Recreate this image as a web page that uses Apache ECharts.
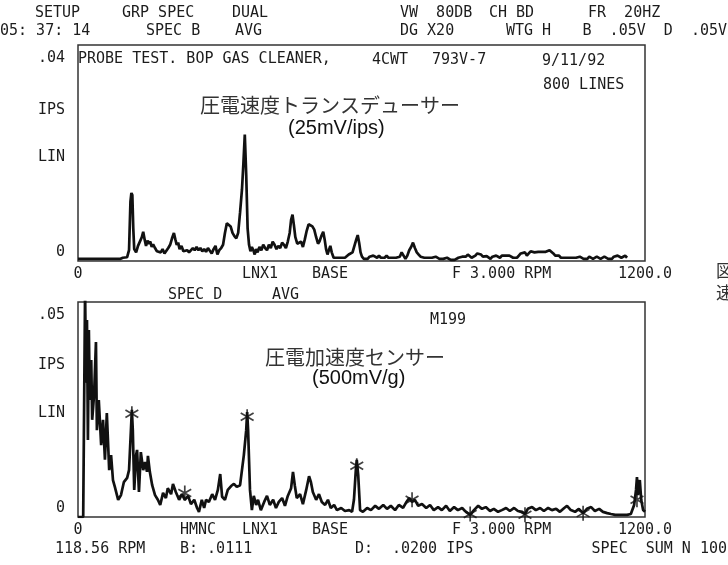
<!DOCTYPE html>
<html><head><meta charset="utf-8">
<script src="https://cdn.jsdelivr.net/npm/echarts@6/dist/echarts.min.js"></script>
<style>html,body{margin:0;padding:0;background:#fff}#c{width:728px;height:565px}</style>
</head><body><div id="c"></div>
<script>
// ---- data (CPM, IPS) ----
const xTickLabels = ['0', '1200.0'];
const topYTickLabels = ['0', '.04'];
const botYTickLabels = ['0', '.05'];
const topCpm = [0,90,95,104,108,111,113,115,117,119,123,127,131,135,138,141,144,147,150,153,156,159,163,167,171,175,179,183,187,191,195,199,203,206,209,212,215,219,223,227,231,235,239,243,247,251,255,259,263,267,271,275,279,283,287,291,295,299,303,307,311,315,319,323,327,331,335,339,343,347,350,353,356,359,362,365,368,371,374,377,380,384,388,392,396,400,404,408,412,416,420,424,428,432,436,440,444,448,451,454,457,460,464,468,472,476,480,484,488,492,496,500,504,508,511,515,519,522,525,528,531,534,537,541,545,549,553,557,561,565,569,573,577,581,585,589,592,595,598,601,605,609,613,617,621,625,629,633,637,641,645,649,653,657,661,665,669,673,677,681,685,689,693,697,701,705,709,713,717,721,725,729,733,737,741,745,749,753,757,761,765,769,773,777,781,785,789,793,797,801,805,809,813,817,821,825,829,833,837,841,845,849,853,857,861,865,869,873,877,881,885,889,893,897,901,905,909,913,917,921,925,929,933,937,941,946,950,954,958,962,966,970,974,978,982,986,990,994,998,1002,1006,1010,1014,1018,1022,1026,1030,1034,1038,1042,1046,1050,1054,1058,1062,1066,1070,1074,1078,1082,1086,1090,1094,1098,1102,1106,1110,1114,1118,1122,1126,1130,1134,1138,1142,1146,1150,1154,1158,1162,1166,1170,1174,1178,1182,1186,1190,1194,1198,1200];
const topIps = [0.0004,0.0004,0.0006,0.0007,0.0020,0.0110,0.0126,0.0122,0.0060,0.0022,0.0016,0.0028,0.0030,0.0044,0.0054,0.0040,0.0028,0.0038,0.0032,0.0036,0.0026,0.0031,0.0024,0.0018,0.0020,0.0016,0.0022,0.0014,0.0017,0.0024,0.0030,0.0042,0.0052,0.0040,0.0030,0.0034,0.0022,0.0028,0.0018,0.0015,0.0020,0.0016,0.0019,0.0024,0.0020,0.0026,0.0020,0.0024,0.0018,0.0022,0.0017,0.0024,0.0019,0.0014,0.0022,0.0028,0.0012,0.0020,0.0024,0.0030,0.0052,0.0070,0.0072,0.0064,0.0052,0.0046,0.0042,0.0052,0.0090,0.0132,0.0180,0.0234,0.0160,0.0060,0.0030,0.0018,0.0026,0.0020,0.0012,0.0022,0.0016,0.0026,0.0020,0.0030,0.0024,0.0020,0.0030,0.0024,0.0036,0.0030,0.0022,0.0028,0.0024,0.0034,0.0030,0.0024,0.0036,0.0052,0.0076,0.0086,0.0066,0.0044,0.0032,0.0030,0.0036,0.0026,0.0040,0.0056,0.0068,0.0070,0.0064,0.0058,0.0044,0.0032,0.0036,0.0046,0.0054,0.0040,0.0022,0.0012,0.0020,0.0028,0.0016,0.0006,0.0004,0.0006,0.0004,0.0006,0.0008,0.0006,0.0008,0.0012,0.0010,0.0016,0.0028,0.0040,0.0048,0.0034,0.0016,0.0008,0.0004,0.0002,0.0004,0.0008,0.0006,0.0010,0.0008,0.0006,0.0010,0.0006,0.0004,0.0006,0.0010,0.0006,0.0004,0.0006,0.0008,0.0006,0.0004,0.0008,0.0016,0.0010,0.0004,0.0010,0.0020,0.0026,0.0034,0.0024,0.0016,0.0012,0.0008,0.0010,0.0006,0.0008,0.0006,0.0008,0.0006,0.0004,0.0008,0.0006,0.0004,0.0006,0.0004,0.0002,0.0006,0.0004,0.0002,0.0004,0.0002,0.0004,0.0006,0.0004,0.0008,0.0010,0.0008,0.0012,0.0010,0.0006,0.0008,0.0010,0.0014,0.0017,0.0012,0.0008,0.0006,0.0009,0.0006,0.0004,0.0008,0.0006,0.0010,0.0008,0.0006,0.0010,0.0012,0.0010,0.0008,0.0010,0.0008,0.0006,0.0008,0.0006,0.0010,0.0014,0.0012,0.0016,0.0010,0.0014,0.0018,0.0020,0.0016,0.0019,0.0017,0.0018,0.0017,0.0019,0.0017,0.0018,0.0020,0.0018,0.0014,0.0010,0.0008,0.0010,0.0006,0.0008,0.0006,0.0004,0.0006,0.0008,0.0006,0.0004,0.0006,0.0004,0.0008,0.0006,0.0004,0.0006,0.0004,0.0008,0.0006,0.0004,0.0006,0.0008,0.0006,0.0004,0.0006,0.0008,0.0006,0.0004,0.0006,0.0004,0.0008,0.0006,0.0010,0.0008,0.0006,0.0004,0.0010,0.0006];
const botCpm = [0,11,15,17,19,21,23,25,28,30,34,38,40,44,49,53,57,61,66,70,74,78,85,91,97,104,108,112,114,116,119,123,125,129,133,138,142,146,148,152,157,163,169,174,180,186,190,197,201,207,214,220,226,233,239,246,252,256,262,267,271,277,284,290,296,301,305,311,317,324,330,336,343,347,351,356,358,360,364,368,372,377,381,387,394,400,406,413,419,425,432,438,444,451,455,459,463,470,476,483,489,493,497,504,510,516,523,529,535,542,548,557,565,574,580,584,588,590,593,597,603,612,620,629,637,646,654,662,671,679,688,694,701,707,713,720,728,737,745,753,762,770,779,787,796,804,813,821,830,838,847,855,863,872,880,889,897,906,914,923,931,940,946,952,961,969,978,986,995,1003,1012,1020,1029,1035,1043,1052,1060,1069,1077,1086,1094,1103,1111,1120,1128,1137,1145,1153,1162,1170,1177,1181,1183,1185,1189,1192,1196,1200];
const botIps = [0,0,0.0530,0.0312,0.0458,0.0179,0.0435,0.0272,0.0365,0.0226,0.0284,0.0407,0.0202,0.0272,0.0167,0.0226,0.0133,0.0242,0.0109,0.0144,0.0086,0.0070,0.0040,0.0051,0.0081,0.0091,0.0109,0.0202,0.0249,0.0202,0.0063,0.0144,0.0156,0.0058,0.0151,0.0109,0.0128,0.0105,0.0142,0.0105,0.0074,0.0051,0.0040,0.0028,0.0056,0.0044,0.0067,0.0053,0.0077,0.0058,0.0040,0.0053,0.0040,0.0049,0.0030,0.0040,0.0021,0.0012,0.0040,0.0021,0.0040,0.0035,0.0053,0.0040,0.0063,0.0100,0.0047,0.0040,0.0063,0.0072,0.0077,0.0070,0.0074,0.0109,0.0144,0.0202,0.0244,0.0202,0.0063,0.0016,0.0049,0.0028,0.0040,0.0016,0.0035,0.0049,0.0028,0.0040,0.0021,0.0035,0.0044,0.0026,0.0049,0.0067,0.0105,0.0072,0.0044,0.0053,0.0030,0.0063,0.0095,0.0081,0.0058,0.0040,0.0053,0.0035,0.0028,0.0040,0.0021,0.0028,0.0016,0.0021,0.0014,0.0016,0.0012,0.0040,0.0109,0.0133,0.0098,0.0016,0.0012,0.0021,0.0016,0.0026,0.0019,0.0028,0.0019,0.0026,0.0016,0.0028,0.0021,0.0033,0.0044,0.0035,0.0040,0.0026,0.0030,0.0021,0.0028,0.0016,0.0023,0.0016,0.0026,0.0014,0.0023,0.0016,0.0021,0.0012,0.0005,0.0016,0.0026,0.0019,0.0023,0.0014,0.0019,0.0012,0.0016,0.0021,0.0014,0.0021,0.0014,0.0012,0.0007,0.0019,0.0023,0.0016,0.0021,0.0014,0.0021,0.0016,0.0019,0.0012,0.0021,0.0026,0.0016,0.0012,0.0019,0.0009,0.0019,0.0023,0.0014,0.0019,0.0012,0.0009,0.0007,0.0005,0.0005,0.0005,0.0005,0.0007,0.0028,0.0063,0.0093,0.0051,0.0086,0.0040,0.0016,0.0012];
const markCpm = [114, 226, 358, 590, 707, 830, 946, 1069, 1183];
const markIps = [0.0240, 0.0056, 0.0233, 0.0119, 0.0040, 0.0007, 0.0005, 0.0009, 0.0040];
const topMax = 0.04, botMax = 0.05, xMax = 1200;

// ---- chart ----
const mono = 'DejaVu Sans Mono';
const ink = '#1c1c1c';
const topData = topCpm.map((c, i) => [c, topIps[i]]);
const botData = botCpm.map((c, i) => [c, botIps[i]]);
const markData = markCpm.map((c, i) => [c, markIps[i]]);

function txt(text, x, y, opt) {
  opt = opt || {};
  return {
    type: 'text', x: x, y: y, silent: true,
    style: {
      text: text, fill: opt.color || ink,
      font: (opt.size || 15) + 'px ' + (opt.family || ('"' + mono + '"')),
      textAlign: opt.align || 'left', textVerticalAlign: 'middle'
    }
  };
}
const jp = '"Noto Sans CJK JP"';
const sans = '"Liberation Sans"';

function yAxisFor(idx, max, labels) {
  return {
    type: 'value', gridIndex: idx, min: 0, max: max, interval: max,
    axisLine: { show: false }, axisTick: { show: false }, splitLine: { show: false },
    axisLabel: {
      margin: 13, color: ink, fontFamily: mono, fontSize: 15,
      formatter: v => v === 0 ? '{lo|' + labels[0] + '}' : '{hi|' + labels[1] + '}',
      rich: {
        lo: { padding: [0, 0, 18, 0], fontFamily: mono, fontSize: 15, color: ink },
        hi: { padding: [26, 0, 0, 0], fontFamily: mono, fontSize: 15, color: ink }
      }
    }
  };
}
function xAxisFor(idx) {
  return {
    type: 'value', gridIndex: idx, min: 0, max: xMax, interval: xMax,
    axisLine: { show: false }, axisTick: { show: false }, splitLine: { show: false },
    axisLabel: {
      margin: 6, color: ink, fontFamily: mono, fontSize: 15,
      formatter: v => v === 0 ? xTickLabels[0] : xTickLabels[1],
      showMinLabel: true, showMaxLabel: true
    }
  };
}

const chart = echarts.init(document.getElementById('c'), null, { renderer: 'canvas' });
chart.setOption({
  animation: false,
  backgroundColor: '#fff',
  grid: [
    { left: 78, top: 45, width: 567, height: 216, show: true, borderColor: '#333', borderWidth: 1.5, backgroundColor: 'transparent' },
    { left: 78, top: 302, width: 567, height: 215, show: true, borderColor: '#333', borderWidth: 1.5, backgroundColor: 'transparent' }
  ],
  xAxis: [xAxisFor(0), xAxisFor(1)],
  yAxis: [yAxisFor(0, topMax, topYTickLabels), yAxisFor(1, botMax, botYTickLabels)],
  series: [
    { type: 'line', xAxisIndex: 0, yAxisIndex: 0, data: topData, showSymbol: false, clip: true,
      lineStyle: { color: '#111', width: 2.7 }, z: 3 },
    { type: 'line', xAxisIndex: 1, yAxisIndex: 1, data: botData, showSymbol: false, clip: true,
      lineStyle: { color: '#111', width: 2.7 }, z: 3 },
    { type: 'scatter', xAxisIndex: 1, yAxisIndex: 1, data: markData,
      symbol: 'path://M7,0L7,14M1,3.5L13,10.5M1,10.5L13,3.5', symbolSize: 15, symbolKeepAspect: true,
      itemStyle: { color: 'rgba(0,0,0,0)', borderColor: '#111', borderWidth: 1.7 }, z: 4 }
  ],
  graphic: [
    // header
    txt('SETUP', 35, 13), txt('GRP SPEC', 122, 13), txt('DUAL', 232, 13),
    txt('VW  80DB', 400, 13), txt('CH BD', 489, 13), txt('FR  20HZ', 588, 13),
    txt('05: 37: 14', 0, 31), txt('SPEC B', 146, 31), txt('AVG', 235, 31),
    txt('DG X20', 400, 31), txt('WTG H', 506, 31), txt('B  .05V  D  .05V', 727, 31, { align: 'right' }),
    // top plot
    txt('IPS', 65, 110, { align: 'right' }), txt('LIN', 65, 157, { align: 'right' }),
    txt('PROBE TEST. BOP GAS CLEANER,', 78, 59), txt('4CWT', 372, 60), txt('793V-7', 432, 60),
    txt('9/11/92', 542, 61), txt('800 LINES', 543, 85),
    txt('圧電速度トランスデューサー', 200, 105, { family: jp, size: 20, color: '#333' }),
    txt('(25mV/ips)', 288, 128, { family: sans, size: 20, color: '#111' }),
    txt('LNX1', 242, 274), txt('BASE', 312, 274), txt('F 3.000 RPM', 452, 274),
    txt('SPEC D', 168, 295), txt('AVG', 272, 295),
    // bottom plot
    txt('IPS', 65, 365, { align: 'right' }), txt('LIN', 65, 413, { align: 'right' }),
    txt('M199', 430, 320),
    txt('圧電加速度センサー', 265, 357, { family: jp, size: 20, color: '#333' }),
    txt('(500mV/g)', 312, 378, { family: sans, size: 20, color: '#111' }),
    txt('HMNC', 180, 530), txt('LNX1', 242, 530), txt('BASE', 312, 530), txt('F 3.000 RPM', 452, 530),
    txt('118.56 RPM', 55, 549), txt('B: .0111', 180, 549), txt('D:', 355, 549),
    txt('.0200 IPS', 392, 549), txt('SPEC  SUM N 100', 727, 549, { align: 'right' }),
    // cut-off text at right edge
    txt('図', 716, 271, { family: jp, size: 17, color: '#333' }),
    txt('速', 716, 293, { family: jp, size: 17, color: '#333' })
  ]
});
</script>
</body></html>
